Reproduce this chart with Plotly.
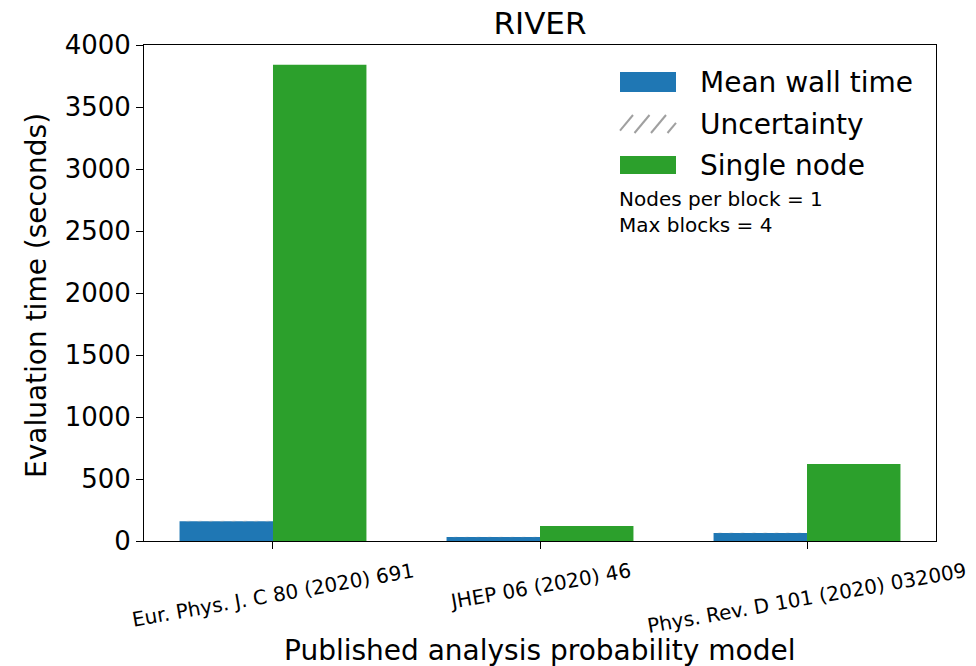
import plotly.graph_objects as go

categories = ["Eur. Phys. J. C 80 (2020) 691", "JHEP 06 (2020) 46", "Phys. Rev. D 101 (2020) 032009"]
mean_wall = [160, 32, 65]
uncertainty = [4, 2, 3]
single_node = [3840, 120, 621]
ytick_vals = [0, 500, 1000, 1500, 2000, 2500, 3000, 3500, 4000]

xpos = list(range(len(categories)))
W = 0.35
FONT = "DejaVu Sans"
BLUE = "#1f77b4"
GREEN = "#2ca02c"

L, R, T, B = 144, 40, 45, 125
PW, PH = 976 - L - R, 666 - T - B


def px(x):
    return (x - L) / PW


def py(y):
    return (666 - B - y) / PH


fig = go.Figure()
fig.add_trace(go.Bar(x=xpos, y=mean_wall, width=W, offset=-W, name="Mean wall time",
                     marker=dict(color=BLUE, line=dict(width=0))))
fig.add_trace(go.Bar(x=xpos, y=[2 * u for u in uncertainty],
                     base=[m - u for m, u in zip(mean_wall, uncertainty)],
                     width=W, offset=-W, name="Uncertainty",
                     marker=dict(color="rgba(0,0,0,0)", line=dict(width=0),
                                 pattern=dict(shape="/", fgcolor="#aaaaaa", bgcolor="rgba(0,0,0,0)",
                                              size=8, solidity=0.3))))
fig.add_trace(go.Bar(x=xpos, y=single_node, width=W, offset=0, name="Single node",
                     marker=dict(color=GREEN, line=dict(width=0))))

fig.update_layout(
    width=976, height=666,
    barmode="overlay",
    showlegend=False,
    plot_bgcolor="white", paper_bgcolor="white",
    margin=dict(l=L, r=R, t=T, b=B, autoexpand=False),
    font=dict(family=FONT, color="black"),
    title=dict(text="RIVER", x=(L + 976 - R) / 2 / 976, xanchor="center", y=1 - 23 / 666, yanchor="middle",
               font=dict(size=31, family=FONT, color="black")),
    xaxis=dict(range=[-0.4831, 2.4831], tickvals=xpos, ticktext=["", "", ""],
               ticks="outside", ticklen=7, tickcolor="black",
               showline=True, linecolor="black", linewidth=1, mirror=True, showgrid=False,
               zeroline=False),
    yaxis=dict(range=[0, 4000], tickvals=ytick_vals, tickfont=dict(size=26), ticks="outside",
               ticklen=7, tickcolor="black", showline=True, linecolor="black", linewidth=1,
               mirror=True, showgrid=False, zeroline=False),
)

# x tick labels, rotated and centred under ticks
for i, cat in enumerate(categories):
    fig.add_annotation(xref="x", yref="paper", x=xpos[i], y=py(556), xanchor="center", yanchor="top",
                       text=cat, textangle=-10, showarrow=False, font=dict(size=20, family=FONT))

# axis titles
fig.add_annotation(xref="paper", yref="paper", x=px(539), y=py(650), xanchor="center", yanchor="middle",
                   text="Published analysis probability model", showarrow=False,
                   font=dict(size=28, family=FONT))
fig.add_annotation(xref="paper", yref="paper", x=px(36), y=py(296), xanchor="center", yanchor="middle",
                   text="Evaluation time (seconds)", textangle=-90, showarrow=False,
                   font=dict(size=28, family=FONT))

# manual legend
legend_items = [("Mean wall time", BLUE, 72, 92), ("Uncertainty", None, 115, 133), ("Single node", GREEN, 156, 174)]
for label, color, y0, y1 in legend_items:
    if color is not None:
        fig.add_shape(type="rect", xref="paper", yref="paper", x0=px(620), x1=px(676), y0=py(y1), y1=py(y0),
                      fillcolor=color, line=dict(width=0))
    else:
        for k in range(4):
            xa = 620 + 16.5 * k - 2
            xb = xa + 15
            ya, yb = y1, y0
            if xa < 620:
                ya = y1 - (620 - xa) * (y1 - y0) / 15
                xa = 620
            if xb > 676:
                yb = y0 + (xb - 676) * (y1 - y0) / 15
                xb = 676
            fig.add_shape(type="line", xref="paper", yref="paper", x0=px(xa), y0=py(ya), x1=px(xb), y1=py(yb),
                          line=dict(color="#a0a0a0", width=2))
    fig.add_annotation(xref="paper", yref="paper", x=px(698), y=py((y0 + y1) / 2), xanchor="left",
                       yanchor="middle", text=label, showarrow=False, font=dict(size=28, family=FONT))

fig.add_annotation(xref="paper", yref="paper", x=px(617), y=py(185), xanchor="left", yanchor="top",
                   align="left", showarrow=False,
                   text="Nodes per block = 1<br>Max blocks = 4", font=dict(size=20, family=FONT))

fig.write_html("out.html", post_script="document.body.style.margin='0';",
               config={"displayModeBar": False})
